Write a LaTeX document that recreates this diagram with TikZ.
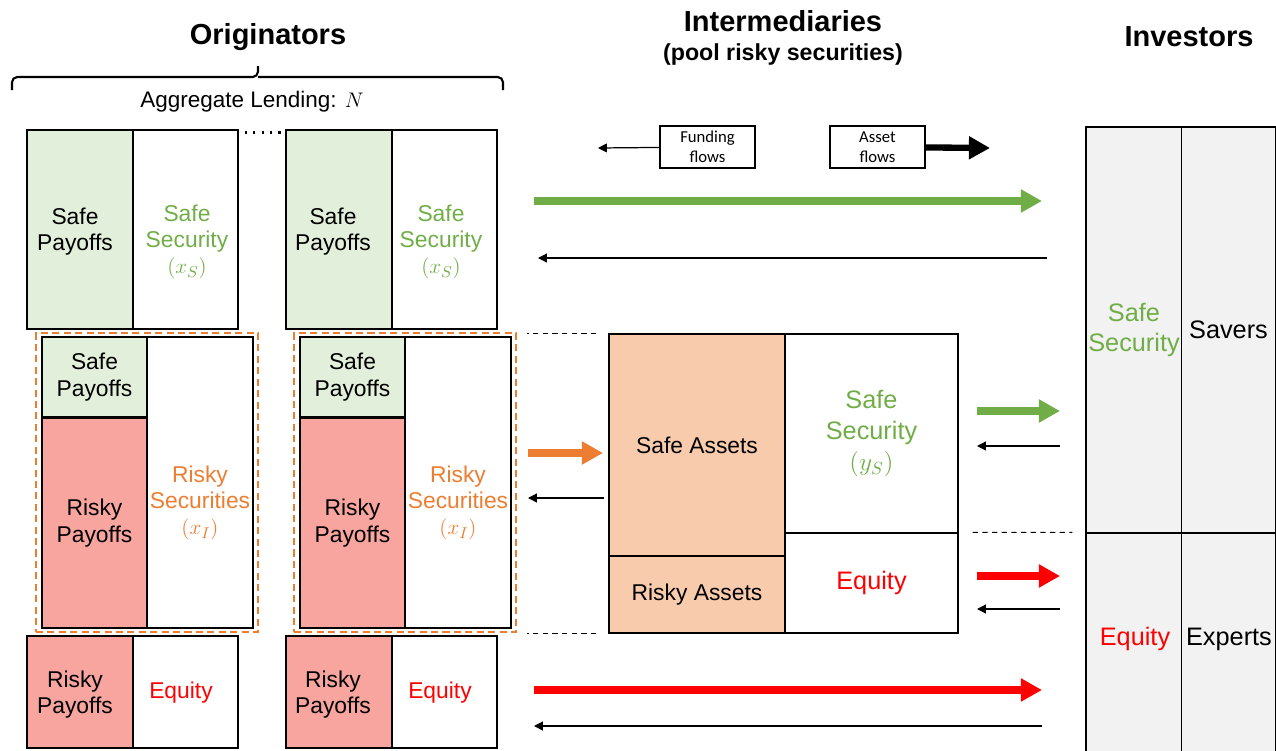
\documentclass[tikz,border=0pt]{standalone}
\usepackage{fontspec}
\setmainfont{Liberation Sans}
\newfontfamily\legendfont{Carlito}
\usepackage{tikz}
\usetikzlibrary{arrows.meta}

\definecolor{safefill}{HTML}{E2EFDA}
\definecolor{riskyfill}{HTML}{F7A59E}
\definecolor{poolfill}{HTML}{F8CBAD}
\definecolor{safegreen}{HTML}{70AD47}
\definecolor{poolorange}{HTML}{ED7D31}
\definecolor{eqred}{HTML}{FF0000}
\definecolor{investgray}{HTML}{F2F2F2}

\begin{document}
\begin{tikzpicture}[x=0.02cm, y=-0.02cm]
  \tikzstyle{box}=[draw, line width=0.8pt, align=center, inner sep=0pt, font=\fontsize{13}{15.5}\selectfont]
  \tikzstyle{sec}=[align=center, inner sep=0pt, font=\fontsize{13}{14.8}\selectfont]
  \tikzstyle{big}=[font=\fontsize{14.4}{17.6}\selectfont]
  \tikzstyle{title}=[font=\bfseries\fontsize{16.5}{19}\selectfont]
  \tikzstyle{pool}=[draw=poolorange, line width=1.4pt, dash pattern=on 4pt off 2.5pt, minimum width=4.44cm, minimum height=5.98cm]
  \tikzstyle{legend}=[draw, line width=0.6pt, align=center, minimum width=1.9cm, minimum height=0.84cm, inner sep=0pt, font=\legendfont\fontsize{9.5}{11.5}\selectfont]
  \tikzstyle{fund}=[-{Triangle[length=5pt,width=5pt]}, line width=0.7pt]
  \tikzstyle{asset}=[-{Triangle[length=12pt,width=12.5pt]}, line width=4pt]
  \tikzstyle{guide}=[line width=0.6pt, dash pattern=on 3pt off 2.5pt]

  \useasboundingbox (0,0) rectangle (1276,751);

  % headings
  \node[title] (T_orig) at (268,37) {Originators};
  \node[title] (T_inter) at (783,21) {Intermediaries};
  \node[font=\bfseries\fontsize{13.2}{15}\selectfont] (T_pool) at (783,54) {(pool risky securities)};
  \node[title] (T_inv) at (1189,37) {Investors};

  \draw[line width=1.2pt, rounded corners=3pt] (12,90) |- (258,77) -- (258,66);
  \draw[line width=1.2pt, rounded corners=3pt] (258,77) -| (503,90);
  \node[font=\fontsize{12.8}{15}\selectfont] (T_agg) at (252,102) {Aggregate Lending: $N$};

  % originators, safe part
  \node[box, fill=safefill, minimum width=2.12cm, minimum height=3.98cm] (A_sp) at (80,229.5) {};
  \node[sec] (A_sp_t) at (75,232) {Safe\\Payoffs};
  \node[box, minimum width=2.10cm, minimum height=3.98cm] (A_ss) at (185.5,229.5) {};
  \node[sec, text=safegreen] (A_ss_t) at (187,242) {Safe\\Security\\$(x_S)$};
  \node[box, fill=safefill, minimum width=2.12cm, minimum height=3.98cm] (B_sp) at (339,229.5) {};
  \node[sec] (B_sp_t) at (333,232) {Safe\\Payoffs};
  \node[box, minimum width=2.10cm, minimum height=3.98cm] (B_ss) at (444.5,229.5) {};
  \node[sec, text=safegreen] (B_ss_t) at (441,242) {Safe\\Security\\$(x_S)$};
  \draw[line width=1.5pt, dash pattern=on 1.3pt off 3.5pt] ([shift={(6,3)}]A_ss.north east) -- ([shift={(-3,3)}]B_sp.north west);

  % originators, pooled part
  \node[pool] (A_pool) at (147,482.5) {};
  \node[box, fill=safefill, minimum width=2.10cm, minimum height=1.60cm] (A_sp2) at (94.5,377) {Safe\\Payoffs};
  \node[box, fill=riskyfill, minimum width=2.10cm, minimum height=4.20cm] (A_rp) at (94.5,523) {Risky\\Payoffs};
  \node[box, minimum width=2.12cm, minimum height=5.82cm] (A_rs) at (200,482.5) {};
  \node[sec, text=poolorange] (A_rs_t) at (200,503) {Risky\\Securities\\$(x_I)$};
  \node[pool] (B_pool) at (405,482.5) {};
  \node[box, fill=safefill, minimum width=2.10cm, minimum height=1.60cm] (B_sp2) at (352.5,377) {Safe\\Payoffs};
  \node[box, fill=riskyfill, minimum width=2.10cm, minimum height=4.20cm] (B_rp) at (352.5,523) {Risky\\Payoffs};
  \node[box, minimum width=2.12cm, minimum height=5.82cm] (B_rs) at (458,482.5) {};
  \node[sec, text=poolorange] (B_rs_t) at (458,503) {Risky\\Securities\\$(x_I)$};

  % originators, equity part
  \node[box, fill=riskyfill, minimum width=2.12cm, minimum height=2.24cm] (A_rp3) at (80,692) {};
  \node[sec] (A_rp3_t) at (75,695) {Risky\\Payoffs};
  \node[box, text=eqred, minimum width=2.10cm, minimum height=2.24cm] (A_eq) at (185.5,692) {};
  \node[sec, text=eqred] (A_eq_t) at (181,693) {Equity};
  \node[box, fill=riskyfill, minimum width=2.12cm, minimum height=2.24cm] (B_rp3) at (339,692) {};
  \node[sec] (B_rp3_t) at (333,695) {Risky\\Payoffs};
  \node[box, text=eqred, minimum width=2.10cm, minimum height=2.24cm] (B_eq) at (444.5,692) {};
  \node[sec, text=eqred] (B_eq_t) at (440,693) {Equity};

  % intermediary
  \node[box, fill=poolfill, minimum width=3.52cm, minimum height=4.44cm] (I_sa) at (697,445) {Safe Assets};
  \node[box, fill=poolfill, minimum width=3.52cm, minimum height=1.54cm] (I_ra) at (697,594.5) {Risky Assets};
  \node[box, big, text=safegreen, minimum width=3.46cm, minimum height=3.98cm] (I_ss) at (871.5,433.5) {Safe\\Security\\$(y_S)$};
  \node[box, big, text=eqred, minimum width=3.46cm, minimum height=2.0cm] (I_eq) at (871.5,583) {Equity};
  \draw[guide] ([xshift=-0.24cm]I_sa.north west) -- ++(-69,0);
  \draw[guide] ([xshift=-0.24cm]I_ra.south west) -- ++(-69,0);

  % investors
  \node[box, big, fill=investgray, text=safegreen, minimum width=1.92cm, minimum height=8.12cm] (V_ss) at (1134,330) {Safe\\Security};
  \node[box, big, fill=investgray, minimum width=1.89cm, minimum height=8.12cm] (V_sv) at (1228.5,330) {Savers};
  \node[box, big, fill=investgray, text=eqred, minimum width=1.92cm, minimum height=4.40cm] (V_eq) at (1134,643) {};
  \node[sec, big, text=eqred] (V_eq_t) at (1135,639) {Equity};
  \node[box, big, fill=investgray, minimum width=1.89cm, minimum height=4.40cm] (V_ex) at (1228.5,643) {};
  \node[sec, big] (V_ex_t) at (1229,639) {Experts};
  \draw[guide] ([xshift=0.28cm]I_eq.north east) -- ([xshift=-0.26cm]V_eq.north west);

  % legend
  \node[legend] (L_fund) at (707.5,147) {Funding\\flows};
  \node[legend] (L_asset) at (877.5,147) {Asset\\flows};
  \coordinate (L_fund_end) at (598,148);
  \coordinate (L_asset_end) at (990,148);
  \draw[fund] (L_fund) -- (L_fund_end);
  \draw[asset, black, line width=3.6pt] (L_asset) -- (L_asset_end);

  % flows
  \coordinate (S_from) at (534,201);
  \coordinate (S_to) at (1042,201);
  \coordinate (S_back) at (1047,258);
  \coordinate (S_ret) at (538,258);
  \coordinate (P_from) at (528,453);
  \coordinate (P_to) at (603,453);
  \coordinate (P_back) at (604,498);
  \coordinate (P_ret) at (528,498);
  \coordinate (Y_from) at (977,411);
  \coordinate (Y_to) at (1060,411);
  \coordinate (Y_back) at (1060,446);
  \coordinate (Y_ret) at (977,446);
  \coordinate (E_from) at (977,576);
  \coordinate (E_to) at (1060,576);
  \coordinate (E_back) at (1060,609);
  \coordinate (E_ret) at (977,609);
  \coordinate (Q_from) at (534,690);
  \coordinate (Q_to) at (1042,690);
  \coordinate (Q_back) at (1042,726);
  \coordinate (Q_ret) at (534,726);

  \draw[asset, safegreen] (S_from) -- (S_to);
  \draw[fund] (S_back) -- (S_ret);
  \draw[asset, poolorange] (P_from) -- (P_to);
  \draw[fund] (P_back) -- (P_ret);
  \draw[asset, safegreen] (Y_from) -- (Y_to);
  \draw[fund] (Y_back) -- (Y_ret);
  \draw[asset, eqred] (E_from) -- (E_to);
  \draw[fund] (E_back) -- (E_ret);
  \draw[asset, eqred] (Q_from) -- (Q_to);
  \draw[fund] (Q_back) -- (Q_ret);
\end{tikzpicture}
\end{document}
